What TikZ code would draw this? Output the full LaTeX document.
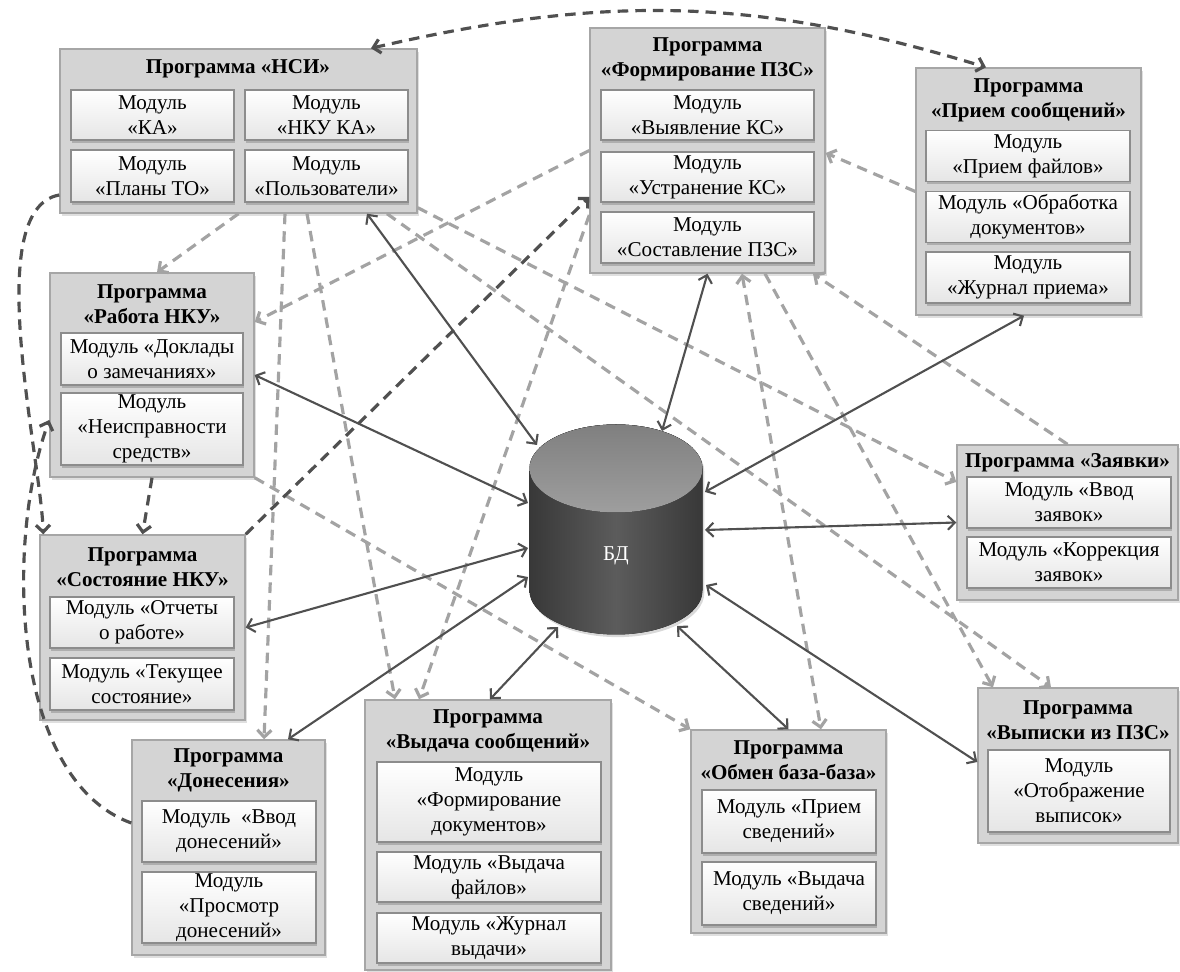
\documentclass[tikz,border=0pt]{standalone}
\usepackage{fontspec}
\setmainfont{Liberation Serif}
\usetikzlibrary{arrows.meta,shadows}

\definecolor{linkdark}{HTML}{505050}
\definecolor{linklight}{HTML}{A3A3A3}

\tikzset{
  progbox/.style={draw=black!35, fill=black!17, line width=0.8pt,
    drop shadow={opacity=0.25, shadow xshift=1pt, shadow yshift=-1.5pt}},
  progtitle/.style={font=\fontsize{12}{14.2}\selectfont\bfseries, align=center, inner sep=0pt},
  modbox/.style={draw=black!45, top color=white, bottom color=black!10, line width=0.6pt,
    align=center, inner sep=0pt, font=\fontsize{12}{14.2}\selectfont,
    drop shadow={opacity=0.45, shadow xshift=0.6pt, shadow yshift=-1.5pt}},
  dblink/.style={<->, draw=linkdark, line width=1.2pt},
  darkdash/.style={->, draw=linkdark, line width=1.8pt, dash pattern=on 6pt off 4pt},
  lightdash/.style={->, draw=linklight, line width=1.8pt, dash pattern=on 6pt off 4pt},
  >={Straight Barb[length=4pt,width=8pt]}
}

\begin{document}
\begin{tikzpicture}
\useasboundingbox (0,0) rectangle (23.6,-19.44);

\node[progbox, minimum width=7.14cm, minimum height=3.28cm] (nsi) at (4.77,-2.62) {};
\node[progtitle] (nsititle) at (4.76,-1.38) {Программа «НСИ»};
\node[modbox, minimum width=3.26cm, minimum height=1.0cm] (nsika) at (3.05,-2.30) {Модуль\\«КА»};
\node[modbox, minimum width=3.26cm, minimum height=1.0cm] (nsinku) at (6.53,-2.30) {Модуль\\«НКУ КА»};
\node[modbox, minimum width=3.26cm, minimum height=1.04cm] (nsiplan) at (3.05,-3.52) {Модуль\\«Планы ТО»};
\node[modbox, minimum width=3.26cm, minimum height=1.04cm] (nsiuser) at (6.53,-3.52) {Модуль\\«Пользователи»};

\node[progbox, minimum width=4.7cm, minimum height=4.9cm] (forma) at (14.15,-3.01) {};
\node[progtitle] (formatitle) at (14.15,-1.19) {Программа\\«Формирование ПЗС»};
\node[modbox, minimum width=4.26cm, minimum height=1.0cm] (formaks) at (14.15,-2.30) {Модуль\\«Выявление КС»};
\node[modbox, minimum width=4.26cm, minimum height=1.0cm] (formafix) at (14.15,-3.54) {Модуль\\«Устранение КС»};
\node[modbox, minimum width=4.26cm, minimum height=1.02cm] (formapzs) at (14.15,-4.75) {Модуль\\«Составление ПЗС»};

\node[progbox, minimum width=4.5cm, minimum height=4.94cm] (priem) at (20.57,-3.83) {};
\node[progtitle] (priemtitle) at (20.57,-2.01) {Программа\\«Прием сообщений»};
\node[modbox, minimum width=4.08cm, minimum height=1.02cm] (priemfile) at (20.56,-3.12) {Модуль\\«Прием файлов»};
\node[modbox, minimum width=4.08cm, minimum height=1.02cm] (priemdoc) at (20.56,-4.34) {Модуль «Обработка\\документов»};
\node[modbox, minimum width=4.08cm, minimum height=1.02cm] (priemlog) at (20.56,-5.55) {Модуль\\«Журнал приема»};

\node[progbox, minimum width=4.08cm, minimum height=4.08cm] (rabota) at (3.04,-7.50) {};
\node[progtitle] (rabotatitle) at (3.04,-6.09) {Программа\\«Работа НКУ»};
\node[modbox, minimum width=3.64cm, minimum height=1.04cm] (rabotarep) at (3.04,-7.18) {Модуль «Доклады\\о замечаниях»};
\node[modbox, minimum width=3.64cm, minimum height=1.44cm] (rabotafail) at (3.04,-8.58) {Модуль\\«Неисправности\\средств»};

\node[progbox, minimum width=4.1cm, minimum height=3.7cm] (sost) at (2.85,-12.55) {};
\node[progtitle] (sosttitle) at (2.85,-11.35) {Программа\\«Состояние НКУ»};
\node[modbox, minimum width=3.68cm, minimum height=1.02cm] (sostrep) at (2.84,-12.45) {Модуль «Отчеты\\о работе»};
\node[modbox, minimum width=3.68cm, minimum height=1.04cm] (sostnow) at (2.84,-13.68) {Модуль «Текущее\\состояние»};

\node[progbox, minimum width=3.86cm, minimum height=4.3cm] (donos) at (4.57,-16.95) {};
\node[progtitle] (donostitle) at (4.57,-15.41) {Программа\\«Донесения»};
\node[modbox, minimum width=3.48cm, minimum height=1.22cm] (donosin) at (4.58,-16.63) {Модуль \ «Ввод\\донесений»};
\node[modbox, minimum width=3.48cm, minimum height=1.42cm] (donosview) at (4.58,-18.15) {Модуль\\«Просмотр\\донесений»};

\node[progbox, minimum width=4.92cm, minimum height=5.4cm] (vydacha) at (9.76,-16.70) {};
\node[progtitle] (vydachatitle) at (9.76,-14.61) {Программа\\«Выдача сообщений»};
\node[modbox, minimum width=4.48cm, minimum height=1.6cm] (vydachadoc) at (9.78,-16.04) {Модуль\\«Формирование\\документов»};
\node[modbox, minimum width=4.48cm, minimum height=1.0cm] (vydachafile) at (9.78,-17.54) {Модуль «Выдача\\файлов»};
\node[modbox, minimum width=4.48cm, minimum height=1.0cm] (vydachalog) at (9.78,-18.76) {Модуль «Журнал\\выдачи»};

\node[progbox, minimum width=3.9cm, minimum height=4.06cm] (obmen) at (15.77,-16.63) {};
\node[progtitle] (obmentitle) at (15.77,-15.21) {Программа\\«Обмен база-база»};
\node[modbox, minimum width=3.48cm, minimum height=1.26cm] (obmenin) at (15.78,-16.43) {Модуль «Прием\\сведений»};
\node[modbox, minimum width=3.48cm, minimum height=1.26cm] (obmenout) at (15.78,-17.87) {Модуль «Выдача\\сведений»};

\node[progbox, minimum width=4.42cm, minimum height=3.1cm] (zayav) at (21.35,-10.45) {};
\node[progtitle] (zayavtitle) at (21.35,-9.26) {Программа «Заявки»};
\node[modbox, minimum width=4.08cm, minimum height=1.02cm] (zayavin) at (21.38,-10.05) {Модуль «Ввод\\заявок»};
\node[modbox, minimum width=4.08cm, minimum height=1.02cm] (zayavfix) at (21.38,-11.25) {Модуль «Коррекция\\заявок»};

\node[progbox, minimum width=4.0cm, minimum height=3.1cm] (vypis) at (21.56,-15.31) {};
\node[progtitle] (vypistitle) at (21.56,-14.41) {Программа\\«Выписки из ПЗС»};
\node[modbox, minimum width=3.64cm, minimum height=1.64cm] (vypisshow) at (21.58,-15.82) {Модуль\\«Отображение\\выписок»};

% database cylinder
\fill[left color=black!78, right color=black!78, middle color=black!64,
  drop shadow={opacity=0.3, shadow xshift=1pt, shadow yshift=-1.5pt}]
  (10.59,-9.37) -- (10.59,-11.81) arc[start angle=180, end angle=360, x radius=1.73, y radius=0.88]
  -- (14.05,-9.37) arc[start angle=0, end angle=180, x radius=1.73, y radius=0.88] -- cycle;
\fill[top color=black!50, bottom color=black!38] (12.32,-9.37) ellipse[x radius=1.73, y radius=0.88];
\node[minimum width=3.46cm, minimum height=4.2cm, inner sep=0pt,
  label={[text=white, font=\fontsize{12}{14}\selectfont, yshift=-0.52cm]center:БД}] (db) at (12.32,-10.59) {};

\draw[lightdash] (nsi.south) -- ([xshift=0.1cm]rabota.north);
\draw[lightdash] ([xshift=0.93cm]nsi.south) -- ([xshift=0.71cm]donos.north);
\draw[lightdash] ([xshift=1.37cm]nsi.south) -- ([xshift=-1.86cm]vydacha.north);
\draw[lightdash] (rabota.south east) -- (obmen.north west);
\draw[lightdash] ([xshift=2.97cm]nsi.south) -- ([xshift=-0.54cm]vypis.north);
\draw[lightdash] ([yshift=0.12cm]nsi.south east) -- ([yshift=0.81cm]zayav.west);
\draw[lightdash] (forma.west) -- ([yshift=1.06cm]rabota.east);
\draw[lightdash] ([yshift=-1.29cm]forma.west) -- ([xshift=-1.38cm]vydacha.north);
\draw[lightdash] (priem.west) -- ([yshift=-0.05cm]forma.east);
\draw[lightdash] (zayav.north) -- ([xshift=2.11cm]forma.south);
\draw[lightdash] ([xshift=1.15cm]forma.south) -- ([xshift=-1.7cm]vypis.north);
\draw[lightdash,<->] ([xshift=0.69cm]forma.south) -- ([xshift=0.65cm]obmen.north);

\draw[darkdash,<->] ([xshift=2.65cm]nsi.north) to[out=13,in=163] ([xshift=-0.85cm]priem.north);
\draw[darkdash] ([yshift=-1.28cm]nsi.west) to[out=190,in=92,looseness=0.6] ([xshift=0.08cm]sost.north west);
\draw[darkdash] ([yshift=0.49cm]donos.west) to[out=160,in=250,looseness=0.8] ([yshift=-0.9cm]rabota.west);
\draw[darkdash] (rabota.south) -- (sost.north);
\draw[darkdash] (sost.north east) -- ([yshift=-0.93cm]forma.west);

\draw[dblink] ([xshift=2.57cm]nsi.south) -- ([shift={(-1.58,1.69)}]db.center);
\draw[dblink] (forma.south) -- ([shift={(0.92,1.97)}]db.center);
\draw[dblink] ([xshift=-0.09cm]priem.south) -- ([shift={(1.78,0.75)}]db.center);
\draw[dblink] (zayav.west) -- ([shift={(1.78,-0.01)}]db.center);
\draw[dblink] ([yshift=0.07cm]vypis.west) -- ([shift={(1.8,-1.11)}]db.center);
\draw[dblink] (obmen.north) -- ([shift={(1.22,-1.93)}]db.center);
\draw[dblink] ([xshift=0.04cm]vydacha.north) -- ([shift={(-1.16,-1.95)}]db.center);
\draw[dblink] ([xshift=1.19cm]donos.north) -- ([shift={(-1.76,-0.95)}]db.center);
\draw[dblink] (sost.east) -- ([shift={(-1.76,-0.37)}]db.center);
\draw[dblink] (rabota.east) -- ([shift={(-1.76,0.53)}]db.center);
\end{tikzpicture}
\end{document}
